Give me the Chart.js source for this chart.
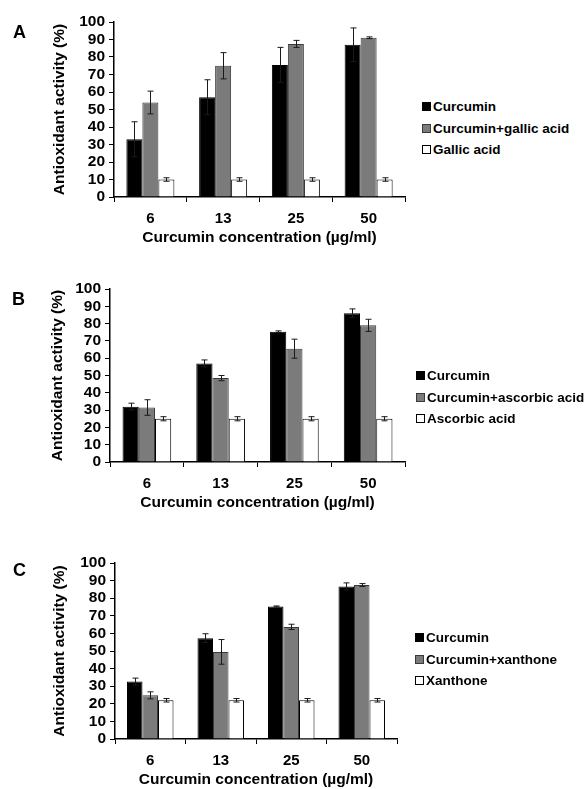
<!DOCTYPE html>
<html>
<head>
<meta charset="utf-8">
<script src="https://cdn.jsdelivr.net/npm/chart.js@4.4.1/dist/chart.umd.min.js"></script>
<style>
  body { margin: 0; background: #fff; }
  #page { position: relative; width: 587px; height: 789px; overflow: hidden;
          font-family: "Liberation Sans", Arial, sans-serif; font-weight: bold; color: #000; }
  #page canvas { position: absolute; left: 0; }
  .letter { position: absolute; font-size: 18px; line-height: 18px; }
  .legend { position: absolute; font-size: 13.5px; }
  .legend .row { display: flex; align-items: center; height: 21.5px; white-space: nowrap; }
  .legend .sw { width: 7px; height: 7px; border: 1px solid #000; margin-right: 2px; }
</style>
</head>
<body>
<div id="page"></div>
<script>
// categories and tick values
const categories = ['6', '13', '25', '50'];
const yMin = 0, yMax = 100, yStep = 10;
const xTitle = 'Curcumin concentration (µg/ml)';
const yTitle = 'Antioxidant activity (%)';

// panel A
const namesA = ['Curcumin', 'Curcumin+gallic acid', 'Gallic acid'];
const curcuminA = [33, 57, 75.5, 87];
const curcuminErrA = [10, 10, 10, 9.6];
const mixA = [54, 75, 87.5, 91];
const mixErrA = [6.5, 7.5, 2, 0.5];
const gallicA = [10, 10, 10, 10];
const gallicErrA = [1, 1, 1, 1];

// panel B
const namesB = ['Curcumin', 'Curcumin+ascorbic acid', 'Ascorbic acid'];
const curcuminB = [32, 57, 75.3, 86];
const curcuminErrB = [2, 2, 0.5, 2.5];
const mixB = [31.5, 48.5, 65.5, 79];
const mixErrB = [4.5, 1.5, 5.5, 3.5];
const ascorbicB = [25, 25, 25, 25];
const ascorbicErrB = [1.2, 1.2, 1.2, 1.2];

// panel C
const namesC = ['Curcumin', 'Curcumin+xanthone', 'Xanthone'];
const curcuminC = [32.6, 57.3, 75.3, 86.7];
const curcuminErrC = [2, 2.5, 0.3, 2];
const mixC = [24.8, 49.5, 63.7, 87.5];
const mixErrC = [2, 7, 1.5, 0.8];
const xanthoneC = [22, 22, 22, 22];
const xanthoneErrC = [1, 1, 1, 1];

const fill = ['#000000', '#7b7b7b', '#ffffff'];
const edge = ['#000000', '#3a3a3a', '#000000'];
const FONT = '"Liberation Sans", Arial, sans-serif';

// layout of each panel on the page
const panels = [
  { letter: 'A', names: namesA, values: [curcuminA, mixA, gallicA], errors: [curcuminErrA, mixErrA, gallicErrA],
    top: 0, plotTop: 22, plotH: 175, padLeft: 50, plotLeft: 114, plotRight: 405,
    letterPos: [13, 23], legendPos: [422, 96] },
  { letter: 'B', names: namesB, values: [curcuminB, mixB, ascorbicB], errors: [curcuminErrB, mixErrB, ascorbicErrB],
    top: 267, plotTop: 22, plotH: 173, padLeft: 48, plotLeft: 110, plotRight: 405,
    letterPos: [12, 290], legendPos: [416, 365] },
  { letter: 'C', names: namesC, values: [curcuminC, mixC, xanthoneC], errors: [curcuminErrC, mixErrC, xanthoneErrC],
    top: 541, plotTop: 22, plotH: 176, padLeft: 50, plotLeft: 115, plotRight: 397,
    letterPos: [13, 561], legendPos: [415, 627] }
];

// draws +/- error bars on top of every bar
const errorBars = {
  id: 'errorBars',
  afterDatasetsDraw(chart) {
    const ctx = chart.ctx;
    const y = chart.scales.y;
    ctx.save();
    ctx.strokeStyle = '#1a1a1a';
    ctx.lineWidth = 1;
    chart.data.datasets.forEach((ds, i) => {
      chart.getDatasetMeta(i).data.forEach((bar, j) => {
        const v = ds.data[j], e = ds.errors[j];
        const top = y.getPixelForValue(v + e);
        const bot = y.getPixelForValue(v - e);
        const x = Math.round(bar.x) + 0.5;
        ctx.beginPath();
        ctx.moveTo(x, top); ctx.lineTo(x, bot);
        ctx.moveTo(x - 3, top); ctx.lineTo(x + 3, top);
        ctx.moveTo(x - 3, bot); ctx.lineTo(x + 3, bot);
        ctx.stroke();
      });
    });
    ctx.restore();
  }
};

const page = document.getElementById('page');
const X_AXIS_H = 50;

panels.forEach(p => {
  const canvas = document.createElement('canvas');
  const w = 420;
  const h = p.plotTop + p.plotH + X_AXIS_H;
  canvas.width = w;
  canvas.height = h;
  canvas.style.top = p.top + 'px';
  page.appendChild(canvas);

  const letter = document.createElement('div');
  letter.className = 'letter';
  letter.textContent = p.letter;
  letter.style.left = p.letterPos[0] + 'px';
  letter.style.top = p.letterPos[1] + 'px';
  page.appendChild(letter);

  const legend = document.createElement('div');
  legend.className = 'legend';
  legend.style.left = p.legendPos[0] + 'px';
  legend.style.top = p.legendPos[1] + 'px';
  p.names.forEach((name, i) => {
    const row = document.createElement('div');
    row.className = 'row';
    const sw = document.createElement('span');
    sw.className = 'sw';
    sw.style.background = fill[i];
    sw.style.borderColor = edge[i];
    row.appendChild(sw);
    row.appendChild(document.createTextNode(name));
    legend.appendChild(row);
  });
  page.appendChild(legend);

  new Chart(canvas.getContext('2d'), {
    type: 'bar',
    data: {
      labels: categories,
      datasets: p.names.map((name, i) => ({
        label: name,
        data: p.values[i],
        errors: p.errors[i],
        backgroundColor: fill[i],
        borderColor: edge[i],
        borderWidth: 1,
        categoryPercentage: 0.66,
        barPercentage: 1.0
      }))
    },
    options: {
      responsive: false,
      animation: false,
      layout: { padding: { left: p.padLeft, right: w - p.plotRight, top: p.plotTop, bottom: 0 } },
      plugins: { legend: { display: false }, tooltip: { enabled: false } },
      scales: {
        x: {
          afterFit: s => { s.height = X_AXIS_H; },
          grid: { display: true, drawOnChartArea: false, drawTicks: true, tickLength: 5, color: '#000', offset: true },
          border: { display: true, color: '#000', width: 1.5 },
          ticks: { color: '#000', padding: 8, font: { family: FONT, size: 15, weight: 'bold' } },
          title: { display: true, text: xTitle, color: '#000', padding: 0,
                   font: { family: FONT, size: 15.5, weight: 'bold' } }
        },
        y: {
          min: yMin, max: yMax,
          afterFit: s => { s.width = p.plotLeft - p.padLeft; },
          grid: { display: true, drawOnChartArea: false, drawTicks: true, tickLength: 5, color: '#000' },
          border: { display: true, color: '#000', width: 1.5 },
          ticks: { stepSize: yStep, autoSkip: false, color: '#000', padding: 4,
                   font: { family: FONT, size: 15.5, weight: 'bold' } },
          title: { display: true, text: yTitle, color: '#000', padding: 0,
                   font: { family: FONT, size: 15.5, weight: 'bold' } }
        }
      }
    },
    plugins: [errorBars]
  });
});
</script>
</body>
</html>
